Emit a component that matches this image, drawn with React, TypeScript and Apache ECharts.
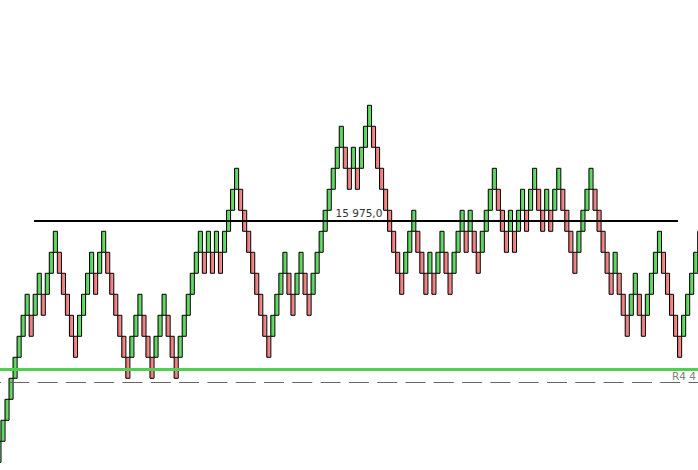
import React, { useEffect, useRef } from 'react';
import * as echarts from 'echarts';

// Renko brick size (price units)
const BRICK = 10;

// Bottom price of each Renko brick, left to right
const brickLow = [
  15860, 15870, 15880, 15890, 15900, 15910, 15920, 15930,
  15920, 15930, 15940, 15930, 15940, 15950, 15960,
  15950, 15940, 15930, 15920, 15910,
  15920, 15930, 15940, 15950, 15940, 15950, 15960,
  15950, 15940, 15930, 15920, 15910, 15900,
  15910, 15920, 15930, 15920, 15910, 15900,
  15910, 15920, 15930, 15920, 15910, 15900,
  15910, 15920, 15930, 15940, 15950, 15960,
  15950, 15960, 15950, 15960, 15950, 15960,
  15970, 15980, 15990,
  15980, 15970, 15960, 15950, 15940, 15930, 15920, 15910,
  15920, 15930, 15940, 15950,
  15940, 15930,
  15940, 15950,
  15940, 15930,
  15940, 15950, 15960, 15970, 15980, 15990, 16000, 16010,
  16000, 15990,
  16000,
  15990,
  16000, 16010, 16020,
  16010, 16000, 15990, 15980, 15970, 15960, 15950, 15940,
  15950, 15960, 15970,
  15960, 15950, 15940,
  15950,
  15940,
  15950, 15960,
  15950, 15940,
  15950, 15960, 15970,
  15960,
  15970,
  15960, 15950,
  15960, 15970, 15980, 15990,
  15980, 15970, 15960,
  15970,
  15960,
  15970, 15980,
  15970,
  15980, 15990,
  15980, 15970,
  15980,
  15970,
  15980, 15990,
  15980, 15970, 15960, 15950,
  15960, 15970, 15980, 15990,
  15980, 15970, 15960, 15950, 15940,
  15950,
  15940, 15930, 15920,
  15930, 15940,
  15930, 15920,
  15930, 15940, 15950, 15960,
  15950, 15940, 15930, 15920, 15910,
  15920, 15930, 15940, 15950, 15960,
];

// Horizontal levels
const LEVEL_PRICE = 15975;
const LEVEL_LABEL = '15 975,0';
const LEVEL_FROM = 8.7; // brick index where the level line starts
const LEVEL_TO = 168.6; // brick index where the level line ends
const R4_PRICE = 15904.3;
const R4_LABEL = 'R4 4';
const DASH_PRICE = 15898.1;

// Visible window
const X_MIN = 0.255;
const X_MAX = 173.57;
const Y_MIN = 15856.33;
const Y_MAX = 16080.14;

const GREEN = {
  type: 'linear', x: 0, y: 0, x2: 1, y2: 0,
  colorStops: [
    { offset: 0, color: '#44c944' },
    { offset: 1, color: '#7fe47f' },
  ],
};
const RED = {
  type: 'linear', x: 0, y: 0, x2: 1, y2: 0,
  colorStops: [
    { offset: 0, color: '#e66464' },
    { offset: 1, color: '#f5a0a0' },
  ],
};

export default function App() {
  const ref = useRef<HTMLDivElement>(null);

  useEffect(() => {
    const chart = echarts.init(ref.current as HTMLDivElement, null, { renderer: 'svg' });

    const data = brickLow.map((low, i) => {
      const up = i === 0 || low > brickLow[i - 1] ? 1 : 0;
      return [i, low, low + BRICK, up];
    });

    const renderItem = (params: any, api: any) => {
      const i = api.value(0);
      const top = api.coord([i, api.value(2)]);
      const bot = api.coord([i, api.value(1)]);
      const w = 4.1;
      return {
        type: 'rect',
        shape: { x: top[0] - w / 2, y: top[1], width: w, height: bot[1] - top[1] },
        style: {
          fill: api.value(3) ? GREEN : RED,
          stroke: '#000',
          lineWidth: 1,
        },
      };
    };

    chart.setOption({
      animation: false,
      backgroundColor: '#ffffff',
      grid: { left: 0, right: 0, top: 0, bottom: 0 },
      xAxis: { type: 'value', min: X_MIN, max: X_MAX, show: false },
      yAxis: { type: 'value', min: Y_MIN, max: Y_MAX, show: false, scale: true },
      series: [
        {
          type: 'custom',
          renderItem,
          data,
          clip: true,
          z: 2,
        },
        {
          type: 'line',
          data: [],
          silent: true,
          z: 3,
          markLine: {
            silent: true,
            animation: false,
            symbol: ['none', 'none'],
            data: [
              [
                {
                  coord: [LEVEL_FROM, LEVEL_PRICE],
                  lineStyle: { color: '#000', width: 2, type: 'solid' },
                  label: {
                    show: true,
                    position: 'middle',
                    formatter: LEVEL_LABEL,
                    color: '#333',
                    fontSize: 10.5,
                    fontFamily: 'DejaVu Sans',
                    distance: 2,
                    offset: [3, 0],
                  },
                },
                { coord: [LEVEL_TO, LEVEL_PRICE] },
              ],
              {
                yAxis: R4_PRICE,
                lineStyle: { color: '#4fd14f', width: 3, type: 'solid' },
                label: { show: false },
              },
              {
                yAxis: DASH_PRICE,
                lineStyle: { color: '#666', width: 1, type: [20, 8.3], dashOffset: 19 },
                label: { show: false },
              },
            ],
          },
        },
      ],
      graphic: [
        {
          type: 'text',
          x: 672,
          y: 376,
          silent: true,
          style: {
            text: R4_LABEL,
            fill: '#808080',
            font: '10.5px "DejaVu Sans"',
            textVerticalAlign: 'middle',
          },
        },
      ],
    });

    return () => chart.dispose();
  }, []);

  return (
    <div
      ref={ref}
      style={{ position: 'fixed', left: 0, top: 0, width: 698, height: 470, background: '#fff' }}
    />
  );
}
